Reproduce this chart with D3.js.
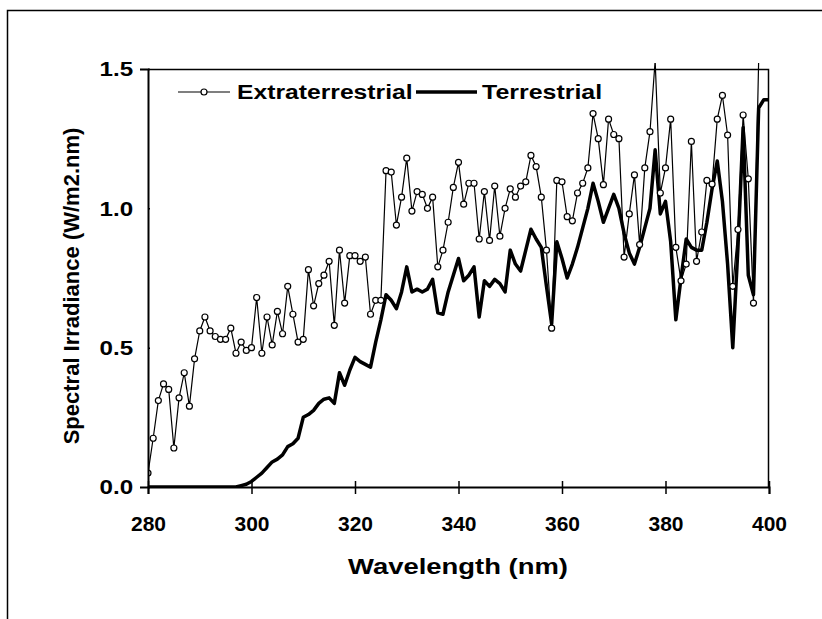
<!DOCTYPE html>
<html>
<head>
<meta charset="utf-8">
<script src="https://cdn.jsdelivr.net/npm/d3@7"></script>
<style>
  body { margin: 0; background: #fff; }
  text { font-family: "Liberation Sans", Arial, sans-serif; font-weight: bold; fill: #000; }
</style>
</head>
<body>
<svg id="chart" width="822" height="619"></svg>
<script>
// wavelength grid, 1 nm steps
const wavelengths = d3.range(280, 401);

// values (W/m2.nm)
const extraterrestrial = [
  0.05, 0.175, 0.31, 0.37, 0.35, 0.14, 0.32, 0.41, 0.29, 0.46,
  0.56, 0.61, 0.56, 0.54, 0.53, 0.53, 0.57, 0.48, 0.52, 0.49,
  0.50, 0.68, 0.48, 0.61, 0.51, 0.63, 0.55, 0.72, 0.62, 0.52,
  0.53, 0.78, 0.65, 0.73, 0.76, 0.81, 0.58, 0.85, 0.66, 0.83,
  0.83, 0.81, 0.825, 0.62, 0.67, 0.67, 1.135, 1.13, 0.94, 1.04,
  1.18, 0.99, 1.06, 1.05, 1.00, 1.04, 0.79, 0.85, 0.95, 1.075,
  1.165, 1.015, 1.09, 1.09, 0.89, 1.06, 0.885, 1.08, 0.90, 1.00,
  1.07, 1.04, 1.08, 1.095, 1.19, 1.15, 1.04, 0.85, 0.57, 1.10,
  1.095, 0.97, 0.955, 1.055, 1.09, 1.145, 1.34, 1.25, 1.085, 1.32,
  1.265, 1.25, 0.825, 0.98, 1.12, 0.87, 1.145, 1.275, 1.53, 1.055,
  1.145, 1.32, 0.86, 0.74, 0.80, 1.24, 0.81, 0.915, 1.10, 1.087,
  1.32, 1.405, 1.263, 0.72, 0.924, 1.335, 1.106, 0.66, 1.53, 1.55,
  1.55
];

const terrestrial = [
  0, 0, 0, 0, 0, 0, 0, 0, 0, 0,
  0, 0, 0, 0, 0, 0, 0, 0, 0.005, 0.01,
  0.02, 0.035, 0.05, 0.07, 0.09, 0.10, 0.115, 0.145, 0.155, 0.175,
  0.25, 0.26, 0.275, 0.30, 0.315, 0.32, 0.30, 0.41, 0.365, 0.42,
  0.465, 0.45, 0.44, 0.43, 0.52, 0.60, 0.69, 0.67, 0.64, 0.70,
  0.79, 0.70, 0.71, 0.70, 0.71, 0.745, 0.625, 0.62, 0.70, 0.76,
  0.82, 0.74, 0.76, 0.79, 0.61, 0.74, 0.72, 0.745, 0.73, 0.70,
  0.85, 0.80, 0.775, 0.85, 0.925, 0.89, 0.86, 0.72, 0.585, 0.88,
  0.82, 0.75, 0.80, 0.86, 0.93, 1.00, 1.09, 1.025, 0.95, 1.00,
  1.05, 1.00, 0.91, 0.84, 0.80, 0.86, 0.93, 1.00, 1.21, 0.98,
  1.025, 0.88, 0.60, 0.75, 0.89, 0.86, 0.85, 0.85, 0.95, 1.07,
  1.17, 1.025, 0.80, 0.50, 0.86, 1.29, 0.76, 0.69, 1.36, 1.39,
  1.39
];

const xTicks = [280, 300, 320, 340, 360, 380, 400];
const yTicks = [0, 0.5, 1.0, 1.5];
const seriesNames = ["Extraterrestrial", "Terrestrial"];

const svg = d3.select("#chart");

const x = d3.scaleLinear().domain([280, 400]).range([148, 769]);
const y = d3.scaleLinear().domain([0, 1.5]).range([487, 69]);

const extraData = wavelengths.map((w, i) => ({ w, v: extraterrestrial[i] }));
const terrData = wavelengths.map((w, i) => ({ w, v: terrestrial[i] }));

// horizontal text in the original is a bit stretched sideways
const stretch = 1.2;

// outer frame (runs off the right and bottom edges)
svg.append("rect")
  .attr("x", 7.5).attr("y", 10.5)
  .attr("width", 840).attr("height", 640)
  .attr("fill", "none").attr("stroke", "#000").attr("stroke-width", 1.5);

svg.append("defs").append("clipPath").attr("id", "plotclip")
  .append("rect")
  .attr("x", 148).attr("y", 63)
  .attr("width", 621).attr("height", 424);

// plot box top and right
svg.append("path")
  .attr("d", `M148,69.5H768.5V487`)
  .attr("fill", "none").attr("stroke", "#000").attr("stroke-width", 1.5);

const plot = svg.append("g").attr("clip-path", "url(#plotclip)");

const line = d3.line().x(d => x(d.w)).y(d => y(d.v));

plot.append("path")
  .datum(extraData)
  .attr("d", line)
  .attr("fill", "none").attr("stroke", "#000").attr("stroke-width", 1.2);

plot.append("path")
  .datum(terrData)
  .attr("d", line)
  .attr("fill", "none").attr("stroke", "#000").attr("stroke-width", 3.5)
  .attr("stroke-linejoin", "round");

plot.selectAll("circle.ext")
  .data(extraData.filter(d => d.v <= 1.5))
  .join("circle")
  .attr("class", "ext")
  .attr("cx", d => x(d.w)).attr("cy", d => y(d.v))
  .attr("r", 3)
  .attr("fill", "#fff").attr("stroke", "#000").attr("stroke-width", 1.2);

// axes
const yAxis = svg.append("g")
  .attr("transform", "translate(148,0)")
  .call(d3.axisLeft(y).tickValues(yTicks).tickFormat(d3.format(".1f")).tickSize(8).tickPadding(5));

const xAxis = svg.append("g")
  .attr("transform", "translate(0,487)")
  .call(d3.axisBottom(x).tickValues(xTicks).tickFormat(d3.format("d")).tickSize(7).tickPadding(22));

xAxis.selectAll(".tick line").attr("y1", -6);
yAxis.selectAll(".tick line").attr("x2", 2);

svg.selectAll(".domain").attr("stroke-width", 2);
svg.selectAll(".tick line").attr("stroke-width", 1.5);
svg.selectAll(".tick text")
  .style("font-size", "21px")
  .style("font-family", "'Liberation Sans', Arial, sans-serif")
  .style("font-weight", "bold");
yAxis.selectAll(".tick text").attr("transform", "scale(1.15,1)");

// axis titles
svg.append("text")
  .attr("transform", `translate(458,574) scale(${stretch * 1.04},1)`)
  .attr("text-anchor", "middle")
  .style("font-size", "22px")
  .text("Wavelength (nm)");

svg.append("text")
  .attr("transform", "translate(79,286) rotate(-90)")
  .attr("text-anchor", "middle")
  .style("font-size", "22px")
  .text("Spectral Irradiance (W/m2.nm)");

// legend
const legend = svg.append("g");
legend.append("line")
  .attr("x1", 178).attr("x2", 230).attr("y1", 92).attr("y2", 92)
  .attr("stroke", "#000").attr("stroke-width", 1.2);
legend.append("circle")
  .attr("cx", 204).attr("cy", 92).attr("r", 3)
  .attr("fill", "#fff").attr("stroke", "#000").attr("stroke-width", 1.2);
legend.append("text")
  .attr("transform", `translate(237,99) scale(${stretch * 0.98},1)`)
  .style("font-size", "21px")
  .text(seriesNames[0]);
legend.append("line")
  .attr("x1", 416).attr("x2", 477).attr("y1", 92).attr("y2", 92)
  .attr("stroke", "#000").attr("stroke-width", 3.5);
legend.append("text")
  .attr("transform", `translate(482,99) scale(${stretch * 0.99},1)`)
  .style("font-size", "21px")
  .text(seriesNames[1]);
</script>
</body>
</html>
